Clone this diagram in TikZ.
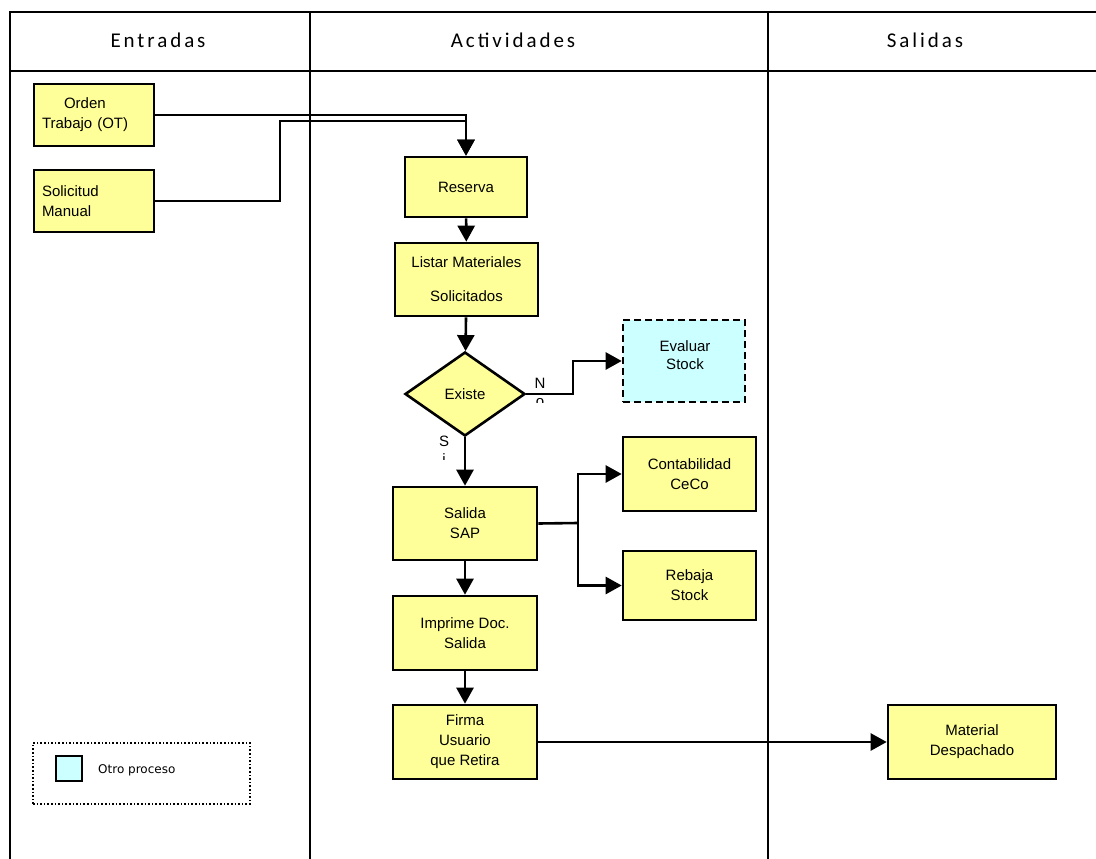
\documentclass[tikz,border=0pt]{standalone}
\usepackage{fontspec}
\setmainfont{Liberation Sans}
\newfontfamily\hdrfont{Carlito}[LetterSpace=14]
\newfontfamily\legfont{DejaVu Sans}
\usetikzlibrary{arrows.meta,shapes.geometric}
\definecolor{procfill}{HTML}{FFFF99}
\definecolor{otherfill}{HTML}{CCFFFF}
\begin{document}
\begin{tikzpicture}[x=1pt,y=-1pt,
  tbl/.style={line width=2.6pt},
  box/.style={draw, fill=procfill, line width=2.6pt, align=center, inner sep=2pt,
              font=\fontsize{15}{20}\selectfont},
  inbox/.style={box, text width=104pt, inner sep=8pt, align=left,
                minimum width=120pt, minimum height=62pt},
  decision/.style={box, diamond, aspect=1.43},
  arr/.style={line width=2.6pt, -{Triangle[length=16pt,width=17pt]}},
  conn/.style={line width=2.6pt},
  hdr/.style={font=\hdrfont\fontsize{21}{24}\selectfont},
  lbl/.style={font=\fontsize{15}{18}\selectfont, align=center, inner sep=0pt}]
\useasboundingbox (0,0) rectangle (1096,859);

% swimlane table
\draw[tbl] (1096,12) -- (10,12) -- (10,859);
\draw[tbl] (10,71) -- (1096,71);
\draw[tbl] (310,12) -- (310,859);
\draw[tbl] (768,12) -- (768,859);
\node[hdr] (hin)  at (158,40) {Entradas};
\node[hdr] (hact) at (513,40) {Actividades};
\node[hdr] (hout) at (925,40) {Salidas};

% inputs
\node[inbox] (ot) at (94,115) {\hspace*{22pt}Orden\\Trabajo (OT)};
\node[inbox] (sol) at (94,201) {Solicitud\\Manual};

% activities
\node[box, minimum width=122pt, minimum height=60pt] (res) at (466,187) {Reserva};
\node[box, minimum width=143pt, minimum height=73pt] (lis) at (466.5,279.5)
  {Listar Materiales\\[14pt]Solicitados};
\node[decision, minimum width=120pt, minimum height=84pt] (exi) at (465,394) {Existe};
\node[box, fill=otherfill, dashed, dash pattern=on 7pt off 4pt,
      minimum width=122pt, minimum height=82pt] (eva) at (684,361) {};
\node[lbl] (evatx) at (685,355) {Evaluar\\Stock};
\node[box, minimum width=144pt, minimum height=73pt] (sal) at (465,523.5) {Salida\\SAP};
\node[box, minimum width=133pt, minimum height=74pt] (con) at (689.5,474) {Contabilidad\\CeCo};
\node[box, minimum width=133pt, minimum height=69pt] (reb) at (689.5,585.5) {Rebaja\\Stock};
\node[box, minimum width=144pt, minimum height=74pt] (imp) at (465,633) {Imprime Doc.\\Salida};
\node[box, minimum width=144pt, minimum height=74pt] (fir) at (465,742) {Firma\\Usuario\\que Retira};

% output
\node[box, minimum width=168pt, minimum height=74pt] (mat) at (972,742) {Material\\Despachado};

% legend
\node[draw, dotted, line width=1.6pt, minimum width=217pt, minimum height=61pt] (leg) at (141.5,773.5) {};
\node[draw, fill=otherfill, line width=2.6pt, minimum width=26pt, minimum height=25pt, inner sep=0pt] (legsq) at (69,768.5) {};
\node[anchor=west, font=\legfont\fontsize{12}{14}\selectfont, inner sep=0pt] (legtx) at (98,770) {Otro proceso};

% connectors
\coordinate (jn) at (280,121);
\coordinate (nb) at (573,394);
\coordinate (sb) at (578,523);
\draw[arr] (ot.east) -| (res.north);
\draw[arr] (sol.east) -| (jn) -| (res.north);
\draw[arr] (res) -- (lis);
\draw[arr] (lis) -- (exi);
\draw[arr] (exi.east) -- (nb) |- (eva.west);
\draw[arr] (exi.south) -- (sal.north);
\draw[conn] (sal.east) -- (sb);
\draw[arr] (sb) |- (con.west);
\draw[arr] (sb) |- (reb.west);
\draw[arr] (sal) -- (imp);
\draw[arr] (imp) -- (fir);
\draw[arr] (fir) -- (mat);

% branch labels, cut off by their text frames
\begin{scope}
  \clip (528,370) rectangle (552,402);
  \node[lbl] (lno) at (540,392) {N\\o};
\end{scope}
\begin{scope}
  \clip (432,430) rectangle (456,459);
  \node[lbl] (lsi) at (444,450) {S\\i};
\end{scope}
\end{tikzpicture}
\end{document}
